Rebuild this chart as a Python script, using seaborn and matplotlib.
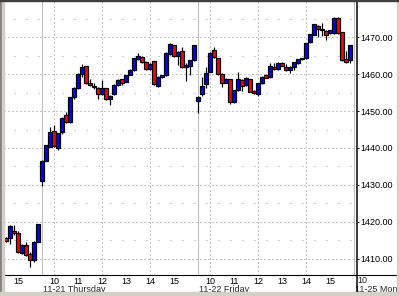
import numpy as np
import pandas as pd
import matplotlib
matplotlib.use("Agg")
import matplotlib.pyplot as plt
import matplotlib.transforms as mtransforms
from matplotlib.lines import Line2D
from matplotlib.patches import Rectangle
import seaborn as sns

# ---------------- data (10-minute bars) ----------------
session_dates = ["2002-11-20", "2002-11-21", "2002-11-22", "2002-11-25"]
session_first_bar = ["14:30", "09:30", "09:30"]
session_bar_count = [9, 39, 39]

opens = [1415.7, 1415.6, 1417.5, 1416.9, 1411.5, 1413.6, 1411.2, 1409.6, 1414.4,
         1431.0, 1436.6, 1440.4, 1444.6, 1439.9, 1444.3, 1448.9, 1447.0, 1453.8, 1456.2,
         1460.1, 1462.1, 1457.7, 1456.9, 1456.2, 1454.5, 1456.2, 1453.3, 1454.5, 1457.1,
         1458.6, 1458.0, 1459.9, 1461.1, 1464.0, 1464.6, 1463.3, 1461.3, 1463.5, 1456.9,
         1459.2, 1459.7, 1465.4, 1467.8, 1464.9, 1466.3, 1461.9, 1462.3, 1463.8,
         1452.8, 1454.6, 1457.3, 1460.7, 1466.5, 1464.3, 1460.0, 1457.7, 1458.7, 1452.5,
         1455.7, 1458.4, 1457.1, 1458.6, 1455.4, 1454.5, 1457.5, 1459.7, 1459.2, 1462.0,
         1461.3, 1463.0, 1462.0, 1461.1, 1462.0, 1463.0, 1464.0, 1464.3, 1468.6, 1470.6,
         1473.1, 1472.0, 1471.8, 1471.1, 1471.1, 1475.1, 1471.4, 1464.0, 1463.8]
highs = [1416.0, 1419.2, 1419.0, 1417.5, 1414.0, 1414.6, 1411.7, 1414.7, 1419.3,
         1436.8, 1440.8, 1445.6, 1446.1, 1444.2, 1448.3, 1449.8, 1453.8, 1456.4, 1460.3,
         1462.8, 1462.3, 1458.7, 1457.6, 1456.4, 1458.4, 1456.3, 1454.3, 1457.3, 1458.7,
         1458.8, 1459.8, 1461.3, 1464.4, 1465.7, 1464.8, 1463.6, 1463.0, 1463.7, 1459.4,
         1459.9, 1466.0, 1468.5, 1468.0, 1466.3, 1467.5, 1463.0, 1463.9, 1468.0,
         1454.2, 1459.3, 1462.0, 1466.0, 1467.4, 1464.4, 1460.2, 1459.0, 1458.8, 1455.8,
         1460.6, 1458.6, 1459.2, 1458.8, 1455.6, 1457.6, 1459.4, 1460.0, 1463.0, 1463.0,
         1463.3, 1463.2, 1462.8, 1462.1, 1463.3, 1464.1, 1464.4, 1468.5, 1471.0, 1473.6,
         1473.3, 1474.0, 1472.0, 1472.1, 1475.6, 1475.6, 1471.5, 1466.3, 1467.9]
lows = [1414.6, 1413.9, 1416.5, 1411.5, 1411.2, 1410.7, 1407.7, 1409.2, 1414.4,
        1429.8, 1436.5, 1440.2, 1440.3, 1439.4, 1443.7, 1446.8, 1446.9, 1453.3, 1455.9,
        1459.2, 1457.4, 1456.8, 1455.9, 1453.4, 1454.4, 1452.9, 1451.7, 1454.3, 1456.8,
        1457.0, 1457.8, 1459.7, 1461.0, 1463.9, 1463.1, 1461.1, 1461.2, 1457.2, 1456.4,
        1459.0, 1459.6, 1465.3, 1464.7, 1462.4, 1461.8, 1458.2, 1459.7, 1463.7,
        1449.4, 1454.2, 1456.2, 1460.5, 1464.5, 1459.9, 1456.4, 1457.5, 1452.0, 1452.3,
        1455.5, 1455.5, 1456.9, 1455.2, 1454.5, 1454.1, 1457.3, 1459.0, 1459.0, 1461.1,
        1461.1, 1462.1, 1461.0, 1460.4, 1461.1, 1462.9, 1463.9, 1464.2, 1468.5, 1470.5,
        1470.2, 1470.4, 1469.3, 1471.0, 1471.0, 1471.0, 1463.7, 1463.0, 1463.1]
closes = [1414.9, 1418.8, 1416.9, 1411.7, 1413.6, 1410.9, 1409.6, 1414.4, 1419.3,
          1436.6, 1440.7, 1444.3, 1440.6, 1444.0, 1448.1, 1447.1, 1453.7, 1456.2, 1460.1,
          1461.9, 1457.6, 1457.0, 1456.5, 1454.5, 1456.2, 1453.3, 1454.1, 1457.2, 1458.4,
          1457.5, 1459.7, 1461.1, 1464.3, 1464.9, 1463.3, 1461.3, 1462.9, 1457.3, 1459.3,
          1459.7, 1465.7, 1468.1, 1464.9, 1466.0, 1461.9, 1462.4, 1463.8, 1467.9,
          1453.9, 1456.8, 1460.2, 1465.7, 1464.6, 1460.0, 1457.5, 1458.7, 1452.5, 1455.7,
          1458.7, 1456.9, 1458.9, 1455.3, 1454.9, 1457.5, 1459.3, 1459.1, 1462.2, 1461.3,
          1463.0, 1462.3, 1461.1, 1462.0, 1463.2, 1464.0, 1464.3, 1468.4, 1470.9, 1473.5,
          1472.2, 1472.2, 1470.6, 1472.0, 1475.1, 1471.1, 1463.8, 1463.4, 1467.9]

day_labels = ["11-21 Thursday", "11-22 Friday", "11-25 Mon"]
hour_labels = ["10", "11", "12", "13", "14", "15"]
y_tick_values = [1410, 1420, 1430, 1440, 1450, 1460, 1470]

# ---------------- build table ----------------
stamps = []
for d, t, n in zip(session_dates, session_first_bar, session_bar_count):
    stamps += list(pd.date_range(f"{d} {t}", periods=n, freq="10min"))
df = pd.DataFrame({"time": stamps, "open": opens, "high": highs,
                   "low": lows, "close": closes})

BARS_PER_DAY = 39
first = df["time"].iloc[0]
first_day_off = (first.hour * 60 + first.minute - 570) // 10


def slot(date_str, hh, mm):
    d = session_dates.index(date_str)
    return d * BARS_PER_DAY + (hh * 60 + mm - 570) / 10 - first_day_off


df["x"] = [slot(t.strftime("%Y-%m-%d"), t.hour, t.minute) for t in df["time"]]
df["up"] = df["close"] >= df["open"]
df["bottom"] = df[["open", "close"]].min(axis=1)
df["height"] = (df["close"] - df["open"]).abs().clip(lower=0.15)

# ---------------- figure ----------------
sns.set_style("white")
plt.rcParams["font.family"] = ["Liberation Sans", "DejaVu Sans"]

W, H = 399, 296
FS = 6.5
fig = plt.figure(figsize=(W / 100, H / 100), dpi=100, facecolor="white")
ax = fig.add_axes([4 / W, 21 / H, 353 / W, 274 / H])
ax.set_facecolor("white")

px = 0.72  # one pixel in points
xmin = (4 - 6.3) / 4
xmax = (357 - 6.3) / 4
ax.set_xlim(xmin, xmax)
ax.set_ylim(1405.58, 1479.84)

# grid: dense dotted on major rows, sparse dots on minor rows
for v in y_tick_values:
    ax.axhline(v, color="#909090", lw=px, ls=(0, (1, 3)), zorder=0)
for v in y_tick_values:
    ax.axhline(v + 5, color="#a0a0a0", lw=px, ls=(2, (1, 11)), zorder=0)

# vertical hour lines (even hours dotted) and session boundaries
for d in session_dates:
    x_open = slot(d, 9, 30)
    if xmin <= x_open <= xmax and x_open > 0:
        ax.axvline(x_open, color="#c0c0c0", lw=1.1 * px, zorder=0.5)
    for h in (10, 12, 14):
        xv = slot(d, h, 0)
        if xmin <= xv <= xmax:
            ax.axvline(xv, color="#909090", lw=px, ls=(0, (1, 3)), zorder=0)

# candles
ax.vlines(df["x"], df["low"], df["high"], color="black", lw=1.2 * px, zorder=2)
ax.bar(df["x"], df["height"], bottom=df["bottom"], width=0.92,
       color=np.where(df["up"], "#0000ff", "#ff0000"),
       edgecolor="black", linewidth=1.2 * px, zorder=3)

# axes styling
for s in ax.spines.values():
    s.set_visible(False)
ax.yaxis.tick_right()
ax.set_yticks(y_tick_values)
ax.set_yticklabels([f"{v:.2f}" for v in y_tick_values])
ax.tick_params(axis="y", length=2.5 * px, width=px, pad=0.6, labelsize=FS,
               colors="black")

xt, xl = [], []
for d in session_dates:
    for lab in hour_labels:
        xv = slot(d, int(lab), 0)
        if 0 <= xv <= xmax:
            xt.append(xv)
            xl.append(lab)
ax.set_xticks(xt)
ax.set_xticklabels(xl)
ax.tick_params(axis="x", length=0, pad=1.2, labelsize=FS, colors="black")
ax.grid(False)

trans = mtransforms.blended_transform_factory(ax.transData, ax.transAxes)
for d, lab in zip(session_dates[1:], day_labels):
    ax.text(slot(d, 9, 30) + 0.2, -0.0515, lab, transform=trans, ha="left",
            va="center", fontsize=FS, clip_on=False)
# next session's first hour label, beyond the plotted range
ax.text(slot(session_dates[-1], 10, 0) - 1, -0.0195, hour_labels[0],
        transform=trans, ha="center", va="center", fontsize=FS, clip_on=False)

# ---------------- frame decorations (pixel geometry) ----------------
def fx(x):
    return x / W


def fy(y):
    return 1 - y / H


fig.add_artist(Line2D([fx(3), fx(397)], [fy(275), fy(275)], color="black",
                      lw=1.1 * px, transform=fig.transFigure, zorder=5))
fig.add_artist(Line2D([fx(356.6), fx(356.6)], [fy(0), fy(292)], color="black",
                      lw=1.5 * px, transform=fig.transFigure, zorder=5))
fig.add_artist(Rectangle((0, fy(296)), fx(2), 1, transform=fig.transFigure,
                         color="#808080", zorder=10))
fig.add_artist(Rectangle((fx(2), fy(296)), fx(1.5), 1, transform=fig.transFigure,
                         color="#d4d0c8", zorder=10))
fig.add_artist(Rectangle((0, 0), 1, 4 / H, transform=fig.transFigure,
                         color="#d4d0c8", zorder=10))
fig.add_artist(Rectangle((fx(397), 0), fx(2), 1, transform=fig.transFigure,
                         color="#d4d0c8", zorder=10))
fig.add_artist(Rectangle((0, fy(1)), 1, 1 / H, transform=fig.transFigure,
                         color="#404040", zorder=10))

fig.savefig("out.png", dpi=100, facecolor="white")
